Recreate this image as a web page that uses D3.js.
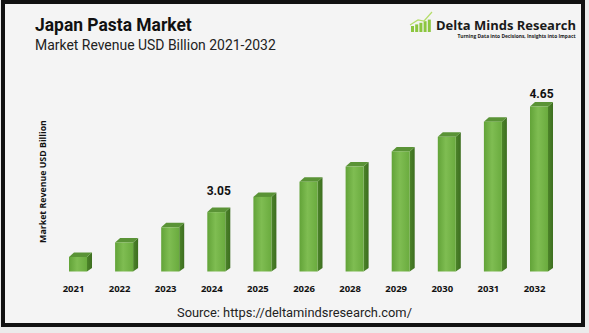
<!DOCTYPE html>
<html>
<head>
<meta charset="utf-8">
<script src="https://cdn.jsdelivr.net/npm/d3@7/dist/d3.min.js"></script>
<style>
  html, body { margin: 0; padding: 0; background: #ebebeb; }
  svg { display: block; }
</style>
</head>
<body>
<svg id="chart" width="589" height="333"></svg>
<script>
// ---- data ----
const years = ["2021","2022","2023","2024","2025","2026","2028","2029","2030","2031","2032"];
const revenue = [2.37, 2.59, 2.82, 3.05, 3.28, 3.51, 3.74, 3.97, 4.19, 4.42, 4.65];
const labelledYears = ["2024", "2032"];
const titleText = "Japan Pasta Market";
const subtitleText = "Market Revenue USD Billion 2021-2032";
const yAxisTitle = "Market Revenue USD Billion";
const sourceText = "Source: https://deltamindsresearch.com/";
const brandName = "Delta Minds Research";
const brandTagline = "Turning Data into Decisions, Insights into Impact";

const W = 589, H = 333;
const svg = d3.select("#chart");

// fit a text element to a target width by adjusting its font size
function fitWidth(sel, target) {
  const node = sel.node();
  const w = node.getComputedTextLength();
  const fs = parseFloat(sel.attr("font-size"));
  if (w > 0) sel.attr("font-size", (fs * target / w).toFixed(2));
  return sel;
}

// frame
svg.append("rect").attr("x", 3).attr("y", 2).attr("width", 580).attr("height", 323)
  .attr("fill", "#f4f4f4").attr("stroke", "#111").attr("stroke-width", 4);

// gradients
const defs = svg.append("defs");
const gf = defs.append("linearGradient").attr("id", "front").attr("x1", 0).attr("x2", 1).attr("y1", 0).attr("y2", 0);
gf.append("stop").attr("offset", "0%").attr("stop-color", "#62a338");
gf.append("stop").attr("offset", "45%").attr("stop-color", "#7fbd52");
gf.append("stop").attr("offset", "100%").attr("stop-color", "#6aab3e");
const gs = defs.append("linearGradient").attr("id", "side").attr("x1", 0).attr("x2", 1).attr("y1", 0).attr("y2", 0);
gs.append("stop").attr("offset", "0%").attr("stop-color", "#4c8429");
gs.append("stop").attr("offset", "100%").attr("stop-color", "#3d6e20");

// scales
const baseY = 271.5;
const x = d3.scalePoint().domain(years).range([78, 539]).padding(0);
const y = d3.scaleLinear().domain([2.15, 4.65]).range([baseY, 106.5]);
const bw = 18, dx = 5, dy = 4.5;

const data = years.map((yr, i) => ({ year: yr, value: revenue[i] }));
const g = svg.append("g");

const bars = g.selectAll("g.bar").data(data).join("g").attr("class", "bar");
// side face
bars.append("path").attr("fill", "url(#side)").attr("d", d => {
  const xr = x(d.year) + bw / 2, yt = y(d.value);
  return `M${xr},${yt} L${xr + dx},${yt - dy} L${xr + dx},${baseY - dy + 1} L${xr},${baseY} Z`;
});
// top face
bars.append("path").attr("fill", "#5a9336").attr("d", d => {
  const xl = x(d.year) - bw / 2, xr = x(d.year) + bw / 2, yt = y(d.value);
  return `M${xl},${yt} L${xl + dx},${yt - dy} L${xr + dx},${yt - dy} L${xr},${yt} Z`;
});
// front face
bars.append("rect")
  .attr("x", d => x(d.year) - bw / 2)
  .attr("y", d => y(d.value))
  .attr("width", bw)
  .attr("height", d => baseY - y(d.value))
  .attr("fill", "url(#front)");

// x axis labels
g.selectAll("text.xl").data(years).join("text").attr("class", "xl")
  .attr("x", d => x(d) - 4.5).attr("y", 292)
  .attr("text-anchor", "middle")
  .attr("font-family", "'Open Sans', sans-serif").attr("font-weight", 700)
  .attr("font-size", 9.5).attr("fill", "#111")
  .text(d => d);

// value labels
const labOff = { "2024": 17, "2032": 9 };
g.selectAll("text.vl").data(data.filter(d => labelledYears.includes(d.year))).join("text").attr("class", "vl")
  .attr("x", d => x(d.year) + 2.5).attr("y", d => y(d.value) - labOff[d.year])
  .attr("text-anchor", "middle")
  .attr("font-family", "Roboto, sans-serif").attr("font-weight", 700)
  .attr("font-size", 12).attr("fill", "#111")
  .text(d => d3.format(".2f")(d.value));

// y axis title
const yt = svg.append("text")
  .attr("transform", "translate(46,181.5) rotate(-90)")
  .attr("text-anchor", "middle")
  .attr("font-family", "'Open Sans', sans-serif").attr("font-weight", 700)
  .attr("font-size", 8).attr("fill", "#111")
  .text(yAxisTitle);
fitWidth(yt, 123);

// titles
const t1 = svg.append("text").attr("x", 35).attr("y", 30.5)
  .attr("font-family", "Roboto, sans-serif").attr("font-weight", 700)
  .attr("font-size", 17).attr("fill", "#111").text(titleText);
fitWidth(t1, 157);
const t2 = svg.append("text").attr("x", 35).attr("y", 50)
  .attr("font-family", "Roboto, sans-serif").attr("font-weight", 400)
  .attr("font-size", 15).attr("fill", "#222").text(subtitleText);
fitWidth(t2, 241);

// source
const src = svg.append("text").attr("x", 177).attr("y", 316.5)
  .attr("font-family", "Roboto, sans-serif").attr("font-size", 12.5).attr("fill", "#222")
  .text(sourceText);
fitWidth(src, 235);

// logo
const logo = svg.append("g");
const iconBars = [0, 1, 2, 3, 4];
logo.selectAll("rect").data(iconBars).join("rect")
  .attr("x", i => 411 + i * 4.2).attr("width", 3)
  .attr("y", i => 26 - i * 1.6).attr("height", i => 32 - (26 - i * 1.6))
  .attr("fill", "#8cc63f");
logo.append("path").attr("d", "M410,25 L418,20 L424,21 L432,12").attr("fill", "none")
  .attr("stroke", "#b5dd6a").attr("stroke-width", 1.2);
const bn = logo.append("text").attr("x", 436).attr("y", 30)
  .attr("font-family", "'Open Sans', sans-serif").attr("font-weight", 700)
  .attr("font-size", 13.5).attr("fill", "#1a1a1a").text(brandName);
fitWidth(bn, 140);
const tl = logo.append("text").attr("x", 575.5).attr("y", 37.5).attr("text-anchor", "end")
  .attr("font-family", "'Open Sans', sans-serif").attr("font-weight", 700)
  .attr("font-size", 5).attr("fill", "#222").text(brandTagline);
fitWidth(tl, 118);
</script>
</body>
</html>
